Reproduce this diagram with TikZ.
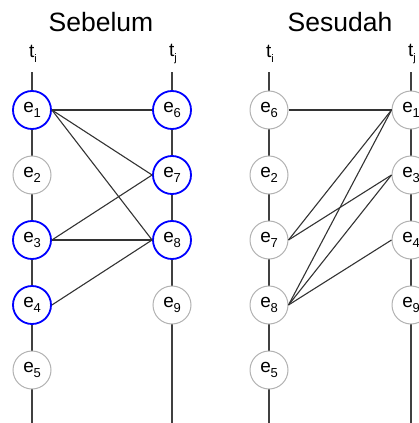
\documentclass[tikz,border=0pt]{standalone}
\usepackage{fontspec}
\setmainfont{Liberation Sans}
\newcommand{\evlab}[1]{e\kern-0.3pt\raisebox{-0.28em}{\fontsize{13}{13}\selectfont #1}}
\newcommand{\tmlab}[1]{t\raisebox{-0.3em}{\fontsize{11}{11}\selectfont #1}}
\begin{document}
\begin{tikzpicture}[x=1pt,y=-1pt,
  ev/.style={circle,draw=gray!60,line width=1pt,fill=white,minimum size=38pt,inner sep=0pt,font=\fontsize{19}{19}\selectfont},
  hl/.style={draw=blue,line width=1.8pt},
  tl/.style={line width=1.3pt,draw=black!75},
  cn/.style={line width=1.1pt,draw=black!80},
  lab/.style={font=\fontsize{19}{19}\selectfont,inner sep=0pt},
  ttl/.style={font=\fontsize{26.5}{26.5}\selectfont,inner sep=0pt}]
\useasboundingbox (0,0) rectangle (419,423);
\clip (0,0) rectangle (419,423);
% titles
\node[ttl] (s1) at (101,22) {Sebelum};
\node[ttl] (s2) at (340,22) {Sesudah};
% time labels
\node[lab] (a1) at (33,54) {\tmlab{i}};
\node[lab] (b1) at (173,54) {\tmlab{j}};
\node[lab] (a2) at (270,54) {\tmlab{i}};
\node[lab] (b2) at (412,54) {\tmlab{j}};
% timelines
\coordinate (a1t) at (32,72); \coordinate (a1b) at (32,423);
\coordinate (b1t) at (172,72); \coordinate (b1b) at (172,423);
\coordinate (a2t) at (269,72); \coordinate (a2b) at (269,423);
\coordinate (b2t) at (411,72); \coordinate (b2b) at (411,423);
\draw[tl] (a1t) -- (a1b);
\draw[tl] (b1t) -- (b1b);
\draw[tl] (a2t) -- (a2b);
\draw[tl] (b2t) -- (b2b);
% left panel
\node[ev,hl] (L1) at (32,110) {\evlab{1}};
\node[ev] (L2) at (32,175) {\evlab{2}};
\node[ev,hl] (L3) at (32,240) {\evlab{3}};
\node[ev,hl] (L4) at (32,305) {\evlab{4}};
\node[ev] (L5) at (32,370) {\evlab{5}};
\node[ev,hl] (L6) at (172,110) {\evlab{6}};
\node[ev,hl] (L7) at (172,175) {\evlab{7}};
\node[ev,hl] (L8) at (172,240) {\evlab{8}};
\node[ev] (L9) at (172,305) {\evlab{9}};
% right panel
\node[ev] (R6) at (269,110) {\evlab{6}};
\node[ev] (R2) at (269,175) {\evlab{2}};
\node[ev] (R7) at (269,240) {\evlab{7}};
\node[ev] (R8) at (269,305) {\evlab{8}};
\node[ev] (R5) at (269,370) {\evlab{5}};
\node[ev] (R1) at (411,110) {\evlab{1}};
\node[ev] (R3) at (411,175) {\evlab{3}};
\node[ev] (R4) at (411,240) {\evlab{4}};
\node[ev] (R9) at (411,305) {\evlab{9}};
% connectors left
\draw[cn] (L1.east) -- (L6.west);
\draw[cn] (L1.east) -- (L7.west);
\draw[cn] (L1.east) -- (L8.west);
\draw[cn] (L3.east) -- (L7.west);
\draw[cn] (L3.east) -- (L8.west);
\draw[cn] (L4.east) -- (L8.west);
% connectors right
\draw[cn] (R6.east) -- (R1.west);
\draw[cn] (R7.east) -- (R1.west);
\draw[cn] (R8.east) -- (R1.west);
\draw[cn] (R7.east) -- (R3.west);
\draw[cn] (R8.east) -- (R3.west);
\draw[cn] (R8.east) -- (R4.west);
\end{tikzpicture}
\end{document}
